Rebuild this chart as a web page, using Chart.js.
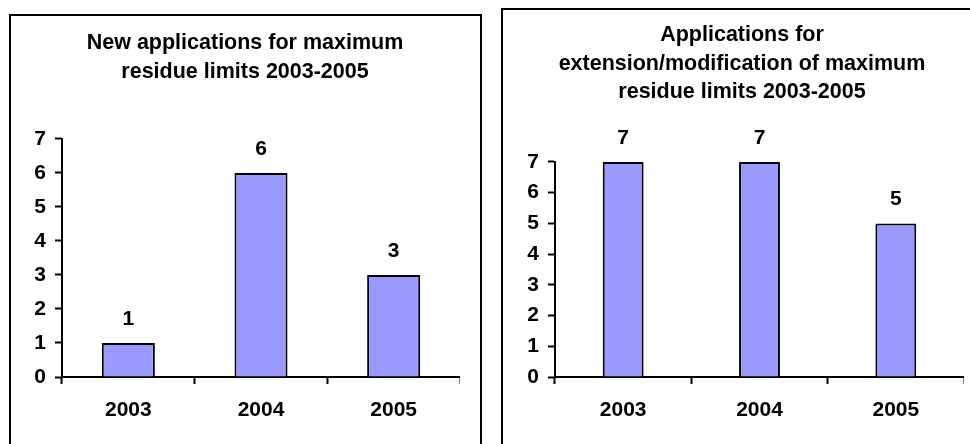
<!DOCTYPE html>
<html lang="en">
<head>
  <meta charset="UTF-8">
  <title>Maximum residue limits 2003-2005</title>
  <script src="https://cdn.jsdelivr.net/npm/chart.js"></script>
  <style>
    body { margin: 0; background: #fff; overflow: hidden; width: 970px; height: 444px; position: relative; }
    .frame { position: absolute; border: 2px solid #000; border-bottom: none; }
    #frameLeft { left: 9px; top: 14px; width: 469px; height: 500px; }
    #frameRight { left: 501px; top: 8px; width: 600px; height: 500px; }
    canvas { position: absolute; top: 0; }
    #chartLeft { left: 30px; }
    #chartRight { left: 520px; }
  </style>
</head>
<body>
  <div class="frame" id="frameLeft"></div>
  <div class="frame" id="frameRight"></div>
  <canvas id="chartLeft" width="430" height="444"></canvas>
  <canvas id="chartRight" width="444" height="444"></canvas>
  <script>
    const years = ['2003', '2004', '2005'];
    const newApplications = [1, 6, 3];
    const extensionApplications = [7, 7, 5];
    const yMax = 7;
    const titleLeft = ['New applications for maximum', 'residue limits 2003-2005'];
    const titleRight = ['Applications for', 'extension/modification of maximum', 'residue limits 2003-2005'];

    const FONT = '"Liberation Sans", Arial, sans-serif';
    Chart.defaults.color = '#000';
    Chart.defaults.font.family = FONT;
    Chart.defaults.font.weight = 'bold';
    Chart.defaults.font.size = 21;

    // value above each bar
    const valueLabels = {
      id: 'valueLabels',
      afterDatasetsDraw(chart) {
        const ctx = chart.ctx;
        const ds = chart.data.datasets[0];
        ctx.save();
        ctx.font = 'bold 21px ' + FONT;
        ctx.fillStyle = '#000';
        ctx.textAlign = 'center';
        ctx.textBaseline = 'middle';
        chart.getDatasetMeta(0).data.forEach((bar, i) => {
          ctx.fillText(ds.data[i], bar.x, bar.y - 24);
        });
        ctx.restore();
      }
    };

    function makeChart(id, title, values, opts) {
      const ctx = document.getElementById(id).getContext('2d');
      return new Chart(ctx, {
        type: 'bar',
        data: {
          labels: years,
          datasets: [{
            data: values,
            backgroundColor: '#9999FF',
            borderColor: '#000',
            borderWidth: 2,
            barPercentage: opts.barPct,
            categoryPercentage: 1
          }]
        },
        options: {
          responsive: false,
          animation: false,
          layout: { padding: 0 },
          plugins: {
            legend: { display: false },
            tooltip: { enabled: false },
            title: {
              display: true,
              text: title,
              font: { size: 21.5, weight: 'bold', lineHeight: 1.33 },
              padding: { top: opts.titleTop, bottom: opts.titleBottom }
            }
          },
          scales: {
            x: {
              grid: { drawOnChartArea: false, drawTicks: true, tickLength: 7, tickColor: '#000', tickWidth: 2 },
              border: { color: '#000', width: 2 },
              ticks: { padding: 14 },
              afterFit: s => { s.height = 67; }
            },
            y: {
              min: 0,
              max: yMax,
              grid: { drawOnChartArea: false, drawTicks: true, tickLength: 7, tickColor: '#000', tickWidth: 2 },
              border: { color: '#000', width: 2 },
              ticks: { stepSize: 1, padding: 9 },
              afterFit: s => { s.width = opts.axisWidth; }
            }
          }
        },
        plugins: [valueLabels]
      });
    }

    makeChart('chartLeft', titleLeft, newApplications, {
      barPct: 0.4, axisWidth: 32, titleTop: 28.7, titleBottom: 53.1
    });
    makeChart('chartRight', titleRight, extensionApplications, {
      barPct: 0.3, axisWidth: 35, titleTop: 20.7, titleBottom: 55.5
    });
  </script>
</body>
</html>
